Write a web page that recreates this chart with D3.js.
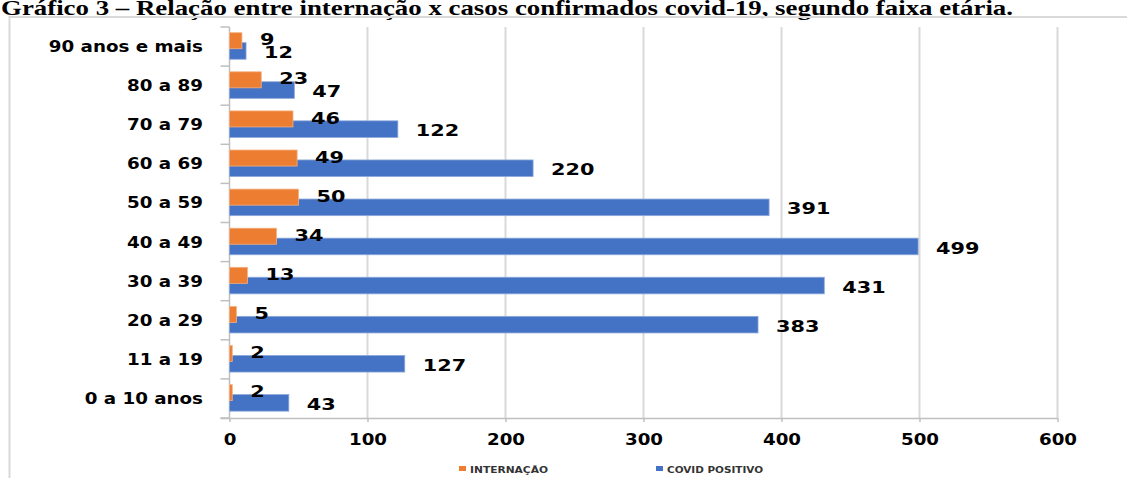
<!DOCTYPE html>
<html>
<head>
<meta charset="utf-8">
<script src="https://cdn.jsdelivr.net/npm/d3@7"></script>
<style>
  html, body { margin: 0; padding: 0; background: #fff; }
  svg { display: block; }
</style>
</head>
<body>
<svg id="chart" width="1127" height="478"></svg>
<script>
// Age groups, bottom to top as drawn on the vertical axis
const categories = ["0 a 10 anos", "11 a 19", "20 a 29", "30 a 39", "40 a 49",
                    "50 a 59", "60 a 69 ", "70 a 79", "80 a 89", "90 anos e mais"];
const internacao = [2, 2, 5, 13, 34, 50, 49, 46, 23, 9];
const covidPositivo = [43, 127, 383, 431, 499, 391, 220, 122, 47, 12];
const xTicks = [0, 100, 200, 300, 400, 500, 600];
const seriesNames = ["INTERNAÇÃO", "COVID POSITIVO"];
const titleText = "Gráfico 3 – Relação entre internação x casos confirmados covid-19, segundo faixa etária.";

const ORANGE = "#ED7D31", BLUE = "#4472C4", GRID = "#d9d9d9", AXIS = "#bfbfbf";
const svg = d3.select("#chart");

// Title (bold serif, partly above the top edge)
svg.append("text")
  .attr("x", 1).attr("y", 15)
  .attr("font-family", "'Liberation Serif', 'Times New Roman', serif")
  .attr("font-weight", "bold").attr("font-size", 21)
  .attr("textLength", 1012).attr("lengthAdjust", "spacingAndGlyphs")
  .attr("fill", "#000")
  .text(titleText);

// Chart frame
svg.append("path")
  .attr("d", "M9.5,478 V17 H1127")
  .attr("fill", "none").attr("stroke", GRID).attr("stroke-width", 2);

const plot = { left: 229.5, right: 1057.5, top: 27, bottom: 418 };

const x = d3.scaleLinear().domain([0, 600]).range([plot.left, plot.right]);
const y = d3.scaleBand().domain(categories).range([plot.bottom, plot.top]).paddingInner(0).paddingOuter(0);
const bw = y.bandwidth();

// Vertical gridlines
svg.append("g").selectAll("line").data(xTicks.filter(t => t > 0)).join("line")
  .attr("x1", d => x(d)).attr("x2", d => x(d))
  .attr("y1", plot.top).attr("y2", plot.bottom)
  .attr("stroke", GRID).attr("stroke-width", 2);

// Bottom axis
const xAxis = svg.append("g").attr("transform", `translate(0,${plot.bottom})`)
  .call(d3.axisBottom(x).tickValues(xTicks).tickSize(4).tickPadding(0).tickFormat(d3.format("d")));
xAxis.select(".domain").attr("stroke", AXIS).attr("stroke-width", 1.5)
  .attr("d", `M${plot.left - 9},0.5H${plot.right}`);
xAxis.selectAll(".tick line").attr("stroke", AXIS).attr("stroke-width", 1.5);
xAxis.selectAll(".tick text")
  .attr("y", 0).attr("dy", 0)
  .attr("font-family", "'DejaVu Sans', sans-serif").attr("font-weight", "bold")
  .attr("font-size", 16).attr("fill", "#000")
  .attr("text-anchor", "middle").attr("dominant-baseline", "central")
  .attr("transform", "translate(0,21) scale(1.14,1)");

// Left axis with ticks at band boundaries
const yAxis = svg.append("g").attr("transform", `translate(${plot.left},0)`);
yAxis.append("line")
  .attr("x1", 0).attr("x2", 0).attr("y1", plot.top).attr("y2", plot.bottom)
  .attr("stroke", AXIS).attr("stroke-width", 1.5);
const bounds = categories.map(c => y(c)).concat([plot.bottom]);
yAxis.selectAll("line.tk").data(bounds).join("line").attr("class", "tk")
  .attr("x1", -9).attr("x2", 0).attr("y1", d => d).attr("y2", d => d)
  .attr("stroke", AXIS).attr("stroke-width", 1.5);

// Category labels
svg.append("g").selectAll("text").data(categories).join("text")
  .attr("transform", d => `translate(203,${y(d) + bw / 2}) scale(1.18,1)`)
  .attr("text-anchor", "end").attr("dominant-baseline", "central")
  .attr("font-family", "'DejaVu Sans', sans-serif").attr("font-weight", "bold")
  .attr("font-size", 15.5).attr("fill", "#000")
  .text(d => d);

// Bars: blue drawn first, orange overlaps on top
const rows = categories.map((c, i) => ({ c, a: internacao[i], b: covidPositivo[i] }));
const blueOff = 0.40 * bw, blueH = 0.425 * bw;
const orangeOff = 0.146 * bw, orangeH = 0.41 * bw;

svg.append("g").selectAll("rect").data(rows).join("rect")
  .attr("x", x(0)).attr("y", d => y(d.c) + blueOff)
  .attr("width", d => x(d.b) - x(0)).attr("height", blueH)
  .attr("fill", BLUE).attr("stroke", "#8eaadb").attr("stroke-width", 0.8);

svg.append("g").selectAll("rect").data(rows).join("rect")
  .attr("x", x(0)).attr("y", d => y(d.c) + orangeOff)
  .attr("width", d => x(d.a) - x(0)).attr("height", orangeH)
  .attr("fill", ORANGE).attr("stroke", "#f4b183").attr("stroke-width", 0.8);

// Value labels
const labelFont = sel => sel
  .attr("font-family", "'DejaVu Sans', sans-serif").attr("font-weight", "bold")
  .attr("font-size", 16).attr("fill", "#000").attr("dominant-baseline", "central");

svg.append("g").selectAll("text").data(rows).join("text")
  .attr("transform", d => `translate(${x(d.a) + 18},${y(d.c) + orangeOff + orangeH / 2 - 1}) scale(1.3,1)`)
  .call(labelFont).text(d => d.a);

svg.append("g").selectAll("text").data(rows).join("text")
  .attr("transform", d => `translate(${x(d.b) + 18},${y(d.c) + blueOff + blueH / 2 + 1.5}) scale(1.3,1)`)
  .call(labelFont).text(d => d.b);

// Legend
const legend = svg.append("g");
const legendItems = [
  { name: seriesNames[0], color: ORANGE, x: 459, len: 78 },
  { name: seriesNames[1], color: BLUE, x: 656, len: 96 }
];
legend.selectAll("rect").data(legendItems).join("rect")
  .attr("x", d => d.x).attr("y", 466).attr("width", 7).attr("height", 5)
  .attr("fill", d => d.color);
legend.selectAll("text").data(legendItems).join("text")
  .attr("x", d => d.x + 11).attr("y", 469.5)
  .attr("dominant-baseline", "central")
  .attr("font-family", "'DejaVu Sans', sans-serif").attr("font-weight", "bold")
  .attr("font-size", 8.5).attr("fill", "#333")
  .attr("textLength", d => d.len).attr("lengthAdjust", "spacingAndGlyphs")
  .text(d => d.name);
</script>
</body>
</html>
